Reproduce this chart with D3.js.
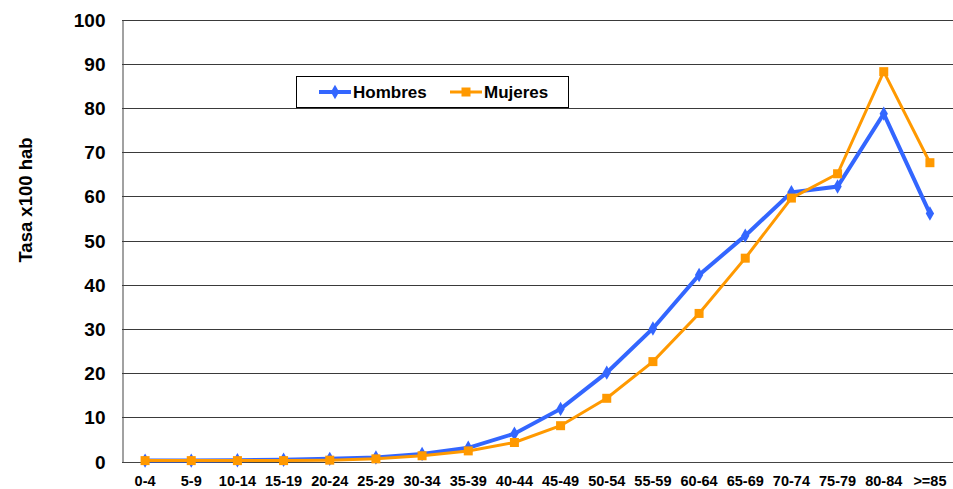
<!DOCTYPE html>
<html><head><meta charset="utf-8">
<script src="https://cdn.jsdelivr.net/npm/d3@7"></script>
<style>body{margin:0;background:#fff}svg{display:block}text{font-family:Arial,"Liberation Sans",sans-serif;font-weight:bold}</style>
</head><body><svg id="c" width="953" height="489"></svg>
<script>
const categories = ["0-4","5-9","10-14","15-19","20-24","25-29","30-34","35-39","40-44","45-49","50-54","55-59","60-64","65-69","70-74","75-79","80-84",">=85"];
const hombres = [0.2,0.2,0.3,0.4,0.6,0.9,1.7,3.1,6.3,11.9,20.1,30.1,42.2,51.1,60.9,62.2,78.7,56.1];
const mujeres = [0.2,0.2,0.2,0.2,0.3,0.6,1.3,2.4,4.3,8.1,14.3,22.6,33.5,46.0,59.6,65.1,88.2,67.6];
const yTicks = [0,10,20,30,40,50,60,70,80,90,100];

const svg = d3.select("#c");
const L = 122, R = 953, T = 19.5, B = 461.5;
const FONT = "Arial, Liberation Sans, sans-serif";
const x = d3.scaleBand().domain(categories).range([L, R]);
const y = d3.scaleLinear().domain([0,100]).range([B, T]);

// gridlines
svg.append("g").selectAll("line").data(yTicks.filter(d=>d>0)).join("line")
  .attr("x1", L).attr("x2", R).attr("y1", d=>Math.round(y(d))+0.5).attr("y2", d=>Math.round(y(d))+0.5)
  .attr("stroke", "#3a3a3a").attr("stroke-width", 1);

// y axis
const ya = svg.append("g").attr("transform", `translate(${L+0.5},0)`)
  .call(d3.axisLeft(y).tickValues(yTicks).tickSize(0).tickPadding(17));
ya.select(".domain").attr("stroke", "#444");
ya.selectAll("text").attr("font-size", 19).attr("fill", "#000").attr("font-weight","bold").attr("font-family",FONT).attr("dy","0.35em");

// x axis
const xa = svg.append("g").attr("transform", `translate(0,${Math.round(B)+0.5})`)
  .call(d3.axisBottom(x).tickSize(0).tickPadding(13));
xa.select(".domain").attr("stroke", "#444").attr("d", `M${L},0H${R}`);
xa.selectAll("text").attr("font-size", 14.5).attr("fill", "#000").attr("font-weight","bold").attr("font-family",FONT);

// y title
svg.append("text").attr("transform", "translate(32,200) rotate(-90)").attr("text-anchor","middle")
  .attr("font-size", 18.5).text("Tasa x100 hab");

const cx = d => x(d) + x.bandwidth()/2;
const line = d3.line().x((d,i)=>cx(categories[i])).y(d=>y(d));
const diamond = d3.symbol().type(d3.symbolDiamond).size(60);

// Hombres
svg.append("path").datum(hombres).attr("d", line).attr("fill","none").attr("stroke","#3366FF").attr("stroke-width",4);
svg.append("g").selectAll("path").data(hombres).join("path")
  .attr("d", diamond).attr("transform",(d,i)=>`translate(${cx(categories[i])},${y(d)})`).attr("fill","#3366FF");

// Mujeres
svg.append("path").datum(mujeres).attr("d", line).attr("fill","none").attr("stroke","#FF9900").attr("stroke-width",3);
svg.append("g").selectAll("rect").data(mujeres).join("rect")
  .attr("x",(d,i)=>cx(categories[i])-4.5).attr("y",d=>y(d)-4.5).attr("width",9).attr("height",9).attr("fill","#FF9900");

// legend
const lg = svg.append("g");
lg.append("rect").attr("x",296.5).attr("y",76.5).attr("width",272).attr("height",31).attr("fill","#fff").attr("stroke","#000").attr("stroke-width",1);
lg.append("line").attr("x1",319).attr("x2",351).attr("y1",92).attr("y2",92).attr("stroke","#3366FF").attr("stroke-width",4);
lg.append("path").attr("d", diamond).attr("transform","translate(335,92)").attr("fill","#3366FF");
lg.append("text").attr("x",353).attr("y",98).attr("font-size",17).text("Hombres");
lg.append("line").attr("x1",450).attr("x2",482).attr("y1",92).attr("y2",92).attr("stroke","#FF9900").attr("stroke-width",3);
lg.append("rect").attr("x",461.5).attr("y",87.5).attr("width",9).attr("height",9).attr("fill","#FF9900");
lg.append("text").attr("x",484).attr("y",98).attr("font-size",17).text("Mujeres");
</script></body></html>
